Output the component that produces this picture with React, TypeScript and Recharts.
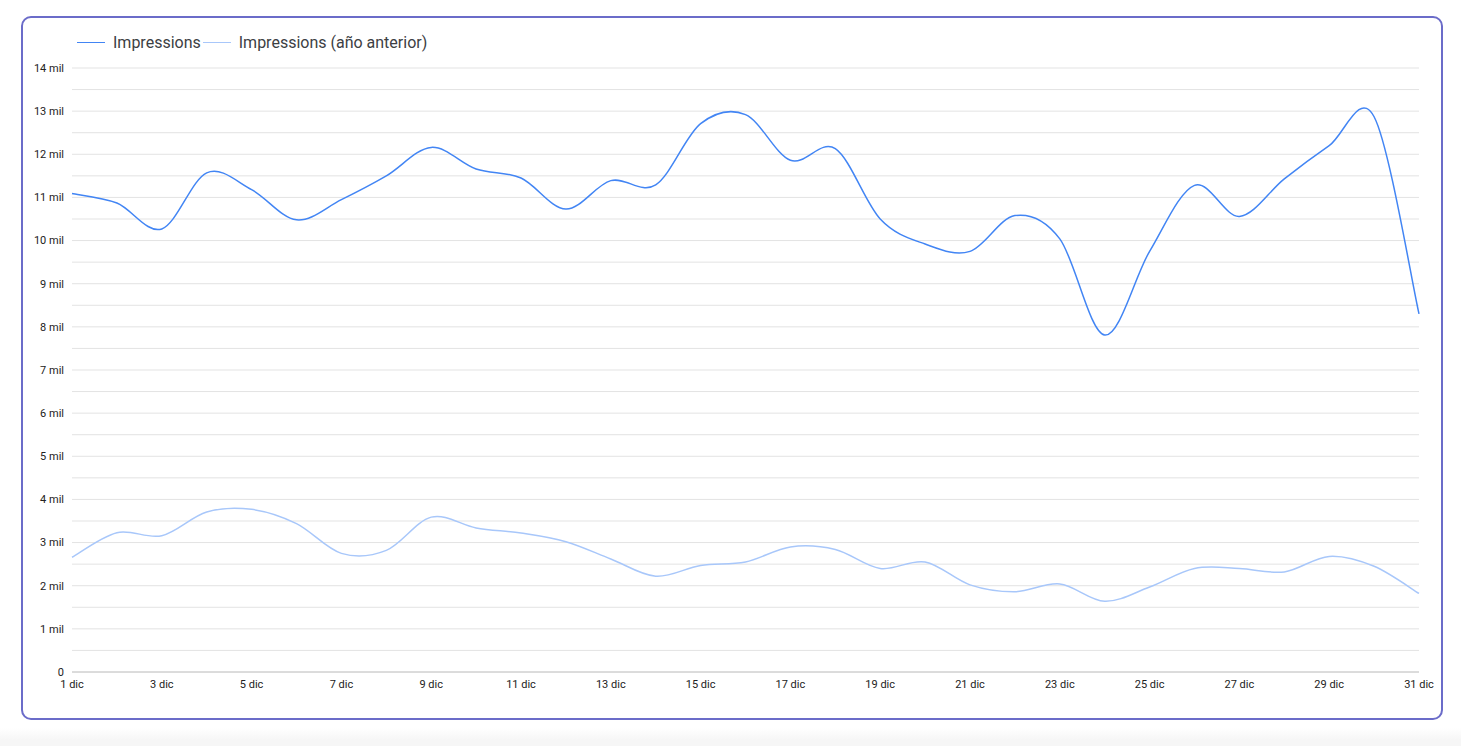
import { CartesianGrid, Line, LineChart, XAxis, YAxis } from "recharts";

const days = [
  "1 dic", "2 dic", "3 dic", "4 dic", "5 dic", "6 dic", "7 dic", "8 dic",
  "9 dic", "10 dic", "11 dic", "12 dic", "13 dic", "14 dic", "15 dic", "16 dic",
  "17 dic", "18 dic", "19 dic", "20 dic", "21 dic", "22 dic", "23 dic", "24 dic",
  "25 dic", "26 dic", "27 dic", "28 dic", "29 dic", "30 dic", "31 dic",
];

const impressions = [
  11090, 10870, 10270, 11570, 11180, 10480, 10950, 11500, 12160, 11660, 11450,
  10730, 11390, 11290, 12710, 12920, 11860, 12130, 10500, 9920, 9750, 10580,
  10040, 7810, 9750, 11280, 10560, 11430, 12200, 12870, 8300,
];

const impressionsPrev = [
  2660, 3230, 3160, 3710, 3770, 3440, 2750, 2820, 3590, 3340, 3220, 3020, 2620,
  2220, 2470, 2550, 2900, 2840, 2400, 2550, 2020, 1860, 2040, 1640, 1970, 2400,
  2400, 2320, 2680, 2450, 1820,
];

const yTicks = [
  0, 500, 1000, 1500, 2000, 2500, 3000, 3500, 4000, 4500, 5000, 5500, 6000,
  6500, 7000, 7500, 8000, 8500, 9000, 9500, 10000, 10500, 11000, 11500, 12000,
  12500, 13000, 13500, 14000,
];

const series = [
  { key: "cur", name: "Impressions", color: "#4285f4" },
  { key: "prev", name: "Impressions (año anterior)", color: "#a8c7fa" },
];

const data = days.map((day, i) => ({
  day,
  cur: impressions[i],
  prev: impressionsPrev[i],
}));

// catmull-rom style smoothing, close to the one the source tool uses
function smoothCurve(context: any) {
  let pts: number[][] = [];
  return {
    areaStart() {},
    areaEnd() {},
    lineStart() {
      pts = [];
    },
    point(x: number, y: number) {
      pts.push([+x, +y]);
    },
    lineEnd() {
      if (!pts.length) return;
      context.moveTo(pts[0][0], pts[0][1]);
      for (let i = 0; i < pts.length - 1; i++) {
        const p0 = pts[i - 1] || pts[i];
        const p1 = pts[i];
        const p2 = pts[i + 1];
        const p3 = pts[i + 2] || p2;
        context.bezierCurveTo(
          p1[0] + (p2[0] - p0[0]) / 6,
          p1[1] + (p2[1] - p0[1]) / 6,
          p2[0] - (p3[0] - p1[0]) / 6,
          p2[1] - (p3[1] - p1[1]) / 6,
          p2[0],
          p2[1]
        );
      }
    },
  };
}

const fmtY = (v: number) => (v === 0 ? "0" : v % 1000 === 0 ? `${v / 1000} mil` : "");

export default function App() {
  return (
    <div style={{ position: "absolute", left: 0, top: 0, width: 1461, height: 746, background: "linear-gradient(#fff 0, #fff 728px, #f6f6f6 740px)" }}>
      <div
        style={{
          position: "absolute",
          left: 21,
          top: 16,
          width: 1422,
          height: 704,
          boxSizing: "border-box",
          border: "2px solid #6b6cc9",
          borderRadius: 10,
          background: "#fff",
        }}
      />
      <div style={{ position: "absolute", left: 0, top: 0 }}>
        <LineChart
          width={1461}
          height={746}
          data={data}
          margin={{ top: 68, right: 42, bottom: 44, left: 0 }}
        >
          <CartesianGrid vertical={false} stroke="#e3e3e3" />
          <XAxis
            dataKey="day"
            height={30}
            interval={1}
            tickLine={false}
            axisLine={{ stroke: "#c6c6c6" }}
            tick={{ fill: "#222", fontSize: 11, fontFamily: "Roboto" }}
          />
          <YAxis
            width={72}
            domain={[0, 14000]}
            ticks={yTicks}
            interval={0}
            tickFormatter={fmtY}
            tickLine={false}
            axisLine={false}
            tick={{ fill: "#222", fontSize: 11, fontFamily: "Roboto" }}
          />
          {series.map((s) => (
            <Line
              key={s.key}
              name={s.name}
              dataKey={s.key}
              type={smoothCurve as any}
              stroke={s.color}
              strokeWidth={1.5}
              dot={false}
              activeDot={false}
              isAnimationActive={false}
            />
          ))}
        </LineChart>
      </div>
      <div
        style={{
          position: "absolute",
          left: 77,
          top: 33,
          display: "flex",
          alignItems: "center",
          fontFamily: "Roboto",
          fontSize: 16,
          color: "#3c4043",
        }}
      >
        {series.map((s) => (
          <div key={s.key} style={{ display: "flex", alignItems: "center", marginRight: 2 }}>
            <span style={{ display: "inline-block", width: 28, height: 0, borderTop: `1.5px solid ${s.color}`, marginRight: 8 }} />
            <span>{s.name}</span>
          </div>
        ))}
      </div>
    </div>
  );
}
